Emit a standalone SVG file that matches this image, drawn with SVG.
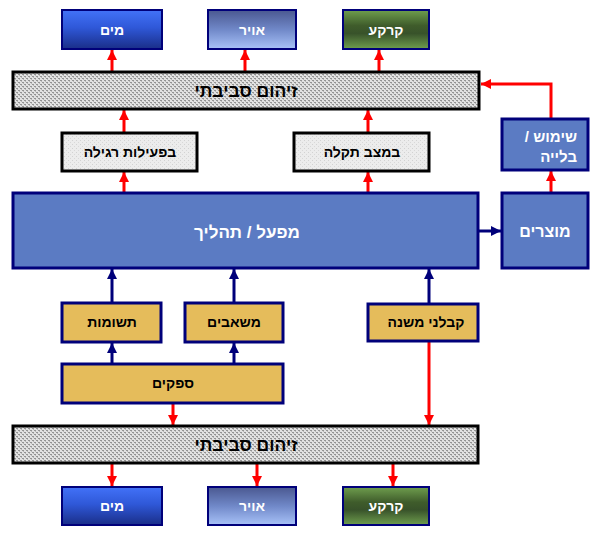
<svg xmlns="http://www.w3.org/2000/svg" width="600" height="536" viewBox="0 0 600 536">
<style>
.t{font-family:"Liberation Sans",Arial,"DejaVu Sans",sans-serif;font-weight:bold;text-anchor:middle}
.w{fill:#ffffff}
.k{fill:#000000}
.bar{fill:url(#dots);stroke:#000;stroke-width:3}
.gbox{fill:url(#noise);stroke:#000;stroke-width:3}
.blue{fill:#5B7BC3;stroke:#00007A;stroke-width:3}
.yel{fill:#E5BC5B;stroke:#00007A;stroke-width:3}
.red{stroke:#FF0000;stroke-width:3;fill:none;marker-end:url(#rh)}
.nav{stroke:#00007A;stroke-width:3;fill:none;marker-end:url(#nh)}
</style>
<defs>
<pattern id="dots" width="4" height="4" patternUnits="userSpaceOnUse">
<rect width="4" height="4" fill="#e2e2e2"/>
<rect x="0" y="0" width="2" height="1" fill="#939393"/>
<rect x="2" y="2" width="2" height="1" fill="#939393"/>
<rect x="1" y="1" width="1" height="1" fill="#b8b8b8"/>
<rect x="3" y="3" width="1" height="1" fill="#b8b8b8"/>
</pattern>
<pattern id="noise" width="4" height="4" patternUnits="userSpaceOnUse">
<rect width="4" height="4" fill="#ececec"/>
<rect x="0" y="0" width="1" height="1" fill="#d2d2d2"/>
<rect x="2" y="2" width="1" height="1" fill="#d8d8d8"/>
</pattern>
<linearGradient id="gW" x1="0" y1="0" x2="0" y2="1">
<stop offset="0" stop-color="#4272f8"/>
<stop offset="0.45" stop-color="#2f58d8"/>
<stop offset="1" stop-color="#1a2e88"/>
</linearGradient>
<linearGradient id="gA" x1="0" y1="0" x2="0" y2="1">
<stop offset="0" stop-color="#4a5890"/>
<stop offset="0.5" stop-color="#7088c8"/>
<stop offset="1" stop-color="#a8c2f8"/>
</linearGradient>
<linearGradient id="gS" x1="0" y1="0" x2="0" y2="1">
<stop offset="0" stop-color="#6f9e4e"/>
<stop offset="0.4" stop-color="#3f5c2b"/>
<stop offset="0.6" stop-color="#38522a"/>
<stop offset="1" stop-color="#6f9e4e"/>
</linearGradient>
<marker id="rh" viewBox="0 0 10 10" refX="10" refY="5" markerWidth="10" markerHeight="10" markerUnits="userSpaceOnUse" orient="auto">
<path d="M0,0 L10,5 L0,10 Z" fill="#FF0000"/>
</marker>
<marker id="nh" viewBox="0 0 10 10" refX="10" refY="5" markerWidth="10" markerHeight="10" markerUnits="userSpaceOnUse" orient="auto">
<path d="M0,0 L10,5 L0,10 Z" fill="#00007A"/>
</marker>
</defs>
<rect width="600" height="536" fill="#ffffff"/>

<g id="connectors">
<path class="red" d="M112,72 V50"/>
<path class="red" d="M245,72 V50"/>
<path class="red" d="M379,72 V50"/>
<path class="red" d="M124,133 V110"/>
<path class="red" d="M368,133 V110"/>
<path class="red" d="M124,193 V172"/>
<path class="red" d="M368,193 V172"/>
<path class="red" d="M551,119 V84 H481"/>
<path class="red" d="M551,193 V171"/>
<path class="nav" d="M479,231 H501"/>
<path class="nav" d="M112,303 V269"/>
<path class="nav" d="M234,303 V269"/>
<path class="nav" d="M429,304 V269"/>
<path class="nav" d="M112,364 V343"/>
<path class="nav" d="M234,364 V343"/>
<path class="red" d="M173,403 V425"/>
<path class="red" d="M429,341 V425"/>
<path class="red" d="M112,463 V486"/>
<path class="red" d="M257,463 V486"/>
<path class="red" d="M393,463 V486"/>
</g>

<g id="water-top"><rect x="62" y="10" width="100" height="39" fill="url(#gW)" stroke="#00007A" stroke-width="2"/><text class="t w" x="112" y="35" font-size="14">מים</text></g>
<g id="air-top"><rect x="208" y="10" width="88" height="39" fill="url(#gA)" stroke="#00007A" stroke-width="2"/><text class="t w" x="252" y="35" font-size="14">אויר</text></g>
<g id="soil-top"><rect x="343" y="10" width="86" height="39" fill="url(#gS)" stroke="#00007A" stroke-width="2"/><text class="t w" x="386" y="35" font-size="14">קרקע</text></g>

<g id="pollution-top"><rect class="bar" x="13" y="72" width="466" height="37"/><text class="t k" x="246" y="97" font-size="17.5">זיהום סביבתי</text></g>

<g id="normal"><rect class="gbox" x="62" y="133" width="135" height="38"/><text class="t k" x="130" y="157" font-size="14">בפעילות רגילה</text></g>
<g id="fault"><rect class="gbox" x="294" y="133" width="135" height="38"/><text class="t k" x="362" y="157" font-size="14">במצב תקלה</text></g>

<g id="use"><rect class="blue" x="502" y="119" width="86" height="51"/>
<text class="t w" x="577" y="142" font-size="15" style="text-anchor:end">שימוש /&#x200F;</text>
<text class="t w" x="577" y="162" font-size="15" style="text-anchor:end">בלייה</text></g>

<g id="plant"><rect class="blue" x="13" y="193" width="465" height="75"/><text class="t w" x="247" y="238" font-size="17">מפעל / תהליך</text></g>
<g id="products"><rect class="blue" x="502" y="193" width="86" height="75"/><text class="t w" x="545" y="237" font-size="16">מוצרים</text></g>

<g id="inputs"><rect class="yel" x="62" y="303" width="99" height="39"/><text class="t k" x="112" y="327" font-size="14">תשומות</text></g>
<g id="resources"><rect class="yel" x="185" y="303" width="98" height="39"/><text class="t k" x="234" y="327" font-size="14">משאבים</text></g>
<g id="subcontractors"><rect class="yel" x="368" y="304" width="110" height="37"/><text class="t k" x="426" y="327" font-size="14">קבלני משנה</text></g>
<g id="suppliers"><rect class="yel" x="62" y="364" width="221" height="39"/><text class="t k" x="173" y="388" font-size="14">ספקים</text></g>

<g id="pollution-bottom"><rect class="bar" x="13" y="426" width="465" height="37"/><text class="t k" x="246" y="451" font-size="17.5">זיהום סביבתי</text></g>

<g id="water-bottom"><rect x="62" y="487" width="100" height="38" fill="url(#gW)" stroke="#00007A" stroke-width="2"/><text class="t w" x="112" y="511" font-size="14">מים</text></g>
<g id="air-bottom"><rect x="208" y="487" width="88" height="38" fill="url(#gA)" stroke="#00007A" stroke-width="2"/><text class="t w" x="252" y="511" font-size="14">אויר</text></g>
<g id="soil-bottom"><rect x="343" y="487" width="86" height="38" fill="url(#gS)" stroke="#00007A" stroke-width="2"/><text class="t w" x="386" y="511" font-size="14">קרקע</text></g>
</svg>
